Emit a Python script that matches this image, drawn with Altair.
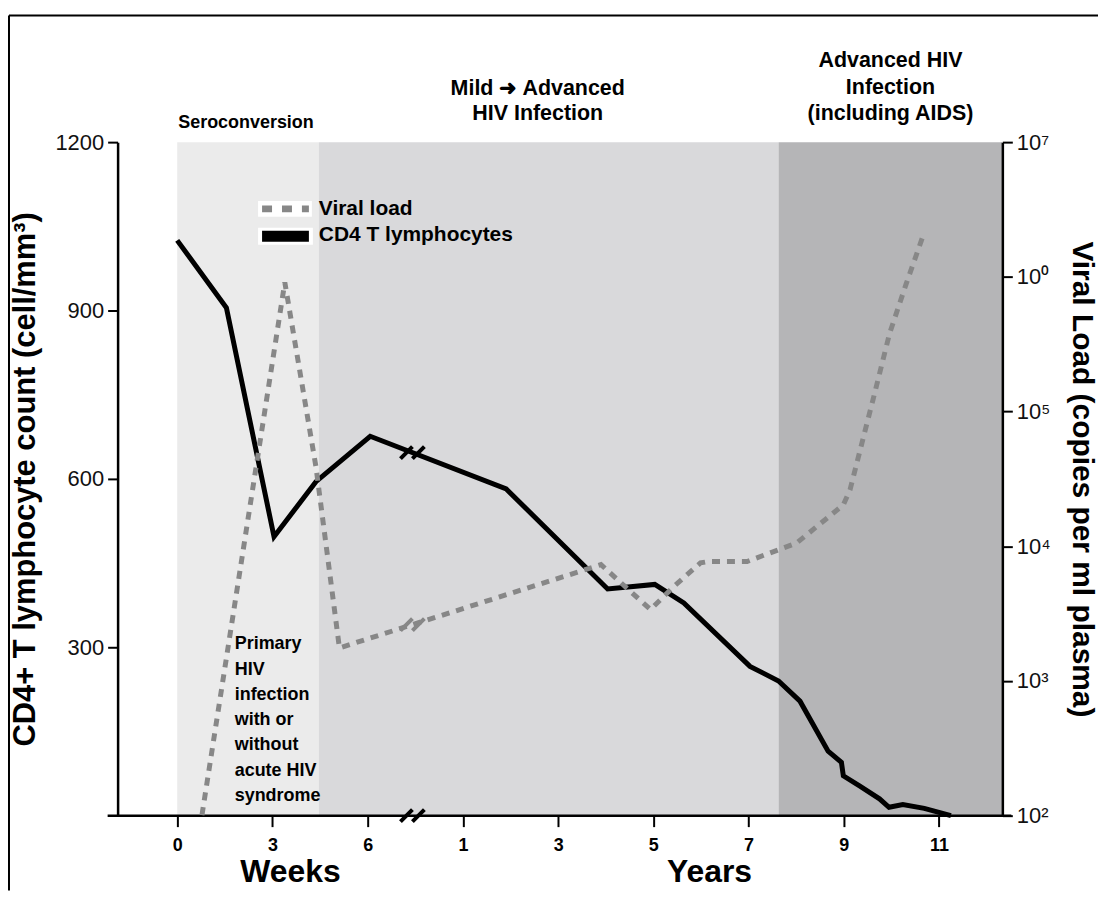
import altair as alt
import pandas as pd
import numpy as np

# ---------------- data ----------------
# CD4+ T lymphocytes (cells/mm3); time given in weeks (early) or years (later)
cd4_time = [0, 1.55, 3.05, 4.37, 6.08, 1.91, 4.04, 5.03, 5.64, 7.03, 7.63, 8.08,
            8.67, 8.95, 8.99, 9.33, 9.75, 9.95, 10.24, 10.69, 11.25]
cd4_unit = ["weeks"] * 5 + ["years"] * 16
cd4_count = [1025, 905, 497, 595, 676, 582, 404, 412, 379, 266, 240, 204,
             115, 95, 71, 53, 30, 15, 20, 13, 0]

# Viral load (copies per ml plasma)
viral_time = [0.78, 3.39, 4.37, 5.11, 3.90, 4.94, 5.43, 5.99, 6.16, 6.97, 7.63,
              8.01, 8.99, 9.13, 9.61, 9.96, 10.31, 10.69]
viral_unit = ["weeks"] * 4 + ["years"] * 14
viral_copies = [101, 910000, 39000, 1760, 7300, 3390, 5030, 7520, 7710, 7710,
                9420, 10570, 20300, 26200, 121000, 378000, 887000, 2140000]

# Stages (shaded backgrounds)
stage_names = ["Seroconversion", "Mild to advanced", "Advanced"]
stage_start = [(0, "weeks"), (4.46, "weeks"), (7.63, "years")]
stage_end = [(4.46, "weeks"), (7.63, "years"), (12.33, "years")]
stage_fill = ["#ebebeb", "#d9d9db", "#b5b5b7"]

# Axis ticks
x_tick_labels = ["0", "3", "6", "1", "3", "5", "7", "9", "11"]
cd4_tick_values = [300, 600, 900, 1200]
viral_tick_values = [1e2, 1e3, 1e4, 1e5, 1e6, 1e7]
viral_tick_labels = ["10²", "10³", "10⁴", "10⁵", "10⁰", "10⁷"]


def axis_pos(t, unit):
    """Position on the broken time axis (one unit per tick)."""
    return t / 3.0 if unit == "weeks" else 3.0 + (t - 1.0) / 2.0


# ---------------- layout ----------------
W, H = 888, 676
XMIN, XMAX = -0.626, 8.665
BREAK_POS = 2.47
SANS = "Liberation Sans, Arial, Helvetica, sans-serif"
GRAY = "#878787"

cd4_df = pd.DataFrame({
    "pos": [axis_pos(t, u) for t, u in zip(cd4_time, cd4_unit)],
    "count": cd4_count,
})
cd4_df["order"] = range(len(cd4_df))
viral_df = pd.DataFrame({
    "pos": [axis_pos(t, u) for t, u in zip(viral_time, viral_unit)],
    "copies": viral_copies,
})
viral_df["order"] = range(len(viral_df))
stage_df = pd.DataFrame({
    "stage": stage_names,
    "start": [axis_pos(*s) for s in stage_start],
    "end": [axis_pos(*e) for e in stage_end],
    "fill": stage_fill,
})
stage_df["mid"] = (stage_df["start"] + stage_df["end"]) / 2

cd4_break = pd.DataFrame({"pos": [BREAK_POS],
                          "count": [np.interp(BREAK_POS, cd4_df["pos"], cd4_df["count"])]})
viral_break = pd.DataFrame({"pos": [BREAK_POS],
                            "copies": [10 ** np.interp(BREAK_POS, viral_df["pos"],
                                                       np.log10(viral_df["copies"]))]})
axis_break = pd.DataFrame({"pos": [BREAK_POS]})
one = pd.DataFrame({"a": [0]})

x_scale = alt.Scale(domain=[XMIN, XMAX], nice=False, zero=False)
label_expr = "[" + ",".join("'%s'" % s for s in x_tick_labels) + "][round(datum.value)]"
x_axis = alt.Axis(values=list(range(len(x_tick_labels))), labelExpr=label_expr,
                  domain=False, grid=False, tickSize=11, tickWidth=2, tickColor="black",
                  labelFont=SANS, labelFontSize=18, labelFontWeight="bold",
                  labelColor="black", labelPadding=10, labelFlush=False, title=None,
                  zindex=1)

cd4_scale = alt.Scale(domain=[0, 1200], nice=False, zero=False)
cd4_axis = alt.Axis(orient="left", values=cd4_tick_values, format="d", grid=False,
                    domainColor="black", domainWidth=2.5, tickColor="black",
                    tickWidth=2, tickSize=10, labelFont=SANS, labelFontSize=22,
                    labelColor="#111111", labelPadding=4, labelFlush=False,
                    title="CD4+ T lymphocyte count (cell/mm³)", titleFont=SANS,
                    titleFontSize=31, titleFontWeight="bold", titleColor="black",
                    titlePadding=13, zindex=1)

viral_scale = alt.Scale(type="log", domain=[1e2, 1e7], nice=False)
viral_expr = ("[" + ",".join("'%s'" % s for s in viral_tick_labels) +
              "][round(log(datum.value)/LN10)-2]")
viral_axis = alt.Axis(orient="right", values=viral_tick_values, labelExpr=viral_expr,
                      grid=False, domainColor="black", domainWidth=2.5,
                      tickColor="black", tickWidth=2, tickSize=10, labelFont=SANS,
                      labelFontSize=22, labelColor="#111111", labelPadding=4,
                      labelFlush=False, title="Viral Load (copies per ml plasma)",
                      titleFont=SANS, titleFontSize=30, titleFontWeight="bold",
                      titleColor="black", titlePadding=16, zindex=1)

X = lambda f: alt.X(f, type="quantitative", scale=x_scale, axis=x_axis)

# ---------------- left group (CD4 scale) ----------------
regions = alt.Chart(stage_df).mark_rect().encode(
    x=X("start"), x2="end", y=alt.value(0), y2=alt.value(H),
    color=alt.Color("fill:N", scale=None))

x_line = alt.Chart(one).mark_rule(color="black", strokeWidth=2.5).encode(
    x=alt.value(-10), x2=alt.value(W + 9), y=alt.value(H))

cd4_line = alt.Chart(cd4_df).mark_line(color="black", strokeWidth=5).encode(
    x=X("pos"), y=alt.Y("count:Q", scale=cd4_scale, axis=cd4_axis), order="order:Q")

BREAK_PATH = "M-1,0.5L0,-0.5M0,0.5L1,-0.5"
cd4_brk = alt.Chart(cd4_break).mark_point(shape=BREAK_PATH, size=576, filled=False,
                                           strokeWidth=4, color="black", opacity=1).encode(
    x=X("pos"), y=alt.Y("count:Q", scale=cd4_scale, axis=cd4_axis))
ax_brk = alt.Chart(axis_break).mark_point(shape=BREAK_PATH, size=576, filled=False,
                                          strokeWidth=4, color="black", opacity=1).encode(
    x=X("pos"), y=alt.value(H))

sero = alt.Chart(stage_df.iloc[[0]]).mark_text(
    font=SANS, fontSize=18, fontWeight="bold", color="black", align="center",
    baseline="middle", dx=-2).encode(x=X("mid"), y=alt.value(-19),
                                     text=alt.value("Seroconversion"))
mild = alt.Chart(stage_df.iloc[[1]]).mark_text(
    font=SANS, fontSize=21.5, fontWeight="bold", color="black", align="center",
    baseline="middle", dx=-11, lineBreak="\n", lineHeight=25).encode(
    x=X("mid"), y=alt.value(-53), text=alt.value("Mild ➜ Advanced\nHIV Infection"))
adv = alt.Chart(stage_df.iloc[[2]]).mark_text(
    font=SANS, fontSize=21.5, fontWeight="bold", color="black", align="center",
    baseline="middle", lineBreak="\n", lineHeight=26.5).encode(
    x=X("mid"), y=alt.value(-81),
    text=alt.value("Advanced HIV\nInfection\n(including AIDS)"))

primary = alt.Chart(pd.DataFrame({"pos": [0.604]})).mark_text(
    font=SANS, fontSize=18, fontWeight="bold", color="black", align="left",
    baseline="middle", lineBreak="\n", lineHeight=25.4).encode(
    x=X("pos"), y=alt.value(504),
    text=alt.value("Primary\nHIV\ninfection\nwith or\nwithout\nacute HIV\nsyndrome"))

units = alt.Chart(pd.DataFrame({"pos": [1.19, 5.59], "unit": ["Weeks", "Years"]})).mark_text(
    font=SANS, fontSize=32, fontWeight="bold", color="black", align="center",
    baseline="middle").encode(x=X("pos"), y=alt.value(733), text="unit:N")

# manual legend
leg_bg1 = alt.Chart(one).mark_rect(color="white").encode(
    x=alt.value(141), x2=alt.value(195), y=alt.value(59), y2=alt.value(75))
leg_bg2 = alt.Chart(one).mark_rect(color="white").encode(
    x=alt.value(141), x2=alt.value(196), y=alt.value(86), y2=alt.value(103))
leg_vl = alt.Chart(one).mark_rule(color=GRAY, strokeWidth=7, strokeDash=[10, 10]).encode(
    x=alt.value(145), x2=alt.value(192), y=alt.value(67))
leg_cd4 = alt.Chart(one).mark_rule(color="black", strokeWidth=11).encode(
    x=alt.value(145), x2=alt.value(192), y=alt.value(94.5))
leg_t1 = alt.Chart(one).mark_text(font=SANS, fontSize=21, fontWeight="bold", color="black",
                                  align="left", baseline="middle").encode(
    x=alt.value(202), y=alt.value(67), text=alt.value("Viral load"))
leg_t2 = alt.Chart(one).mark_text(font=SANS, fontSize=21, fontWeight="bold", color="black",
                                  align="left", baseline="middle").encode(
    x=alt.value(202), y=alt.value(93), text=alt.value("CD4 T lymphocytes"))

# frame around the figure
frame_top = alt.Chart(one).mark_rule(color="black", strokeWidth=2).encode(
    x=alt.value(-109), x2=alt.value(984), y=alt.value(-127))
frame_left = alt.Chart(one).mark_rule(color="black", strokeWidth=2).encode(
    x=alt.value(-109), y=alt.value(-127), y2=alt.value(H + 75))

left = alt.layer(regions, x_line, cd4_line, cd4_brk, ax_brk, sero, mild, adv, primary,
                 units, leg_bg1, leg_bg2, leg_vl, leg_cd4, leg_t1, leg_t2,
                 frame_top, frame_left)

# ---------------- right group (viral load scale) ----------------
viral_line = alt.Chart(viral_df).mark_line(color=GRAY, strokeWidth=5,
                                           strokeDash=[8, 7]).encode(
    x=X("pos"), y=alt.Y("copies:Q", scale=viral_scale, axis=viral_axis), order="order:Q")
viral_brk = alt.Chart(viral_break).mark_point(shape=BREAK_PATH, size=576, filled=False,
                                              strokeWidth=4, color=GRAY, opacity=1).encode(
    x=X("pos"), y=alt.Y("copies:Q", scale=viral_scale, axis=viral_axis))
right = alt.layer(viral_line, viral_brk)

chart = alt.layer(left, right).resolve_scale(y="independent").properties(
    width=W, height=H, padding={"left": 0, "top": 5, "right": 0, "bottom": 0},
    background="white"
).configure_view(stroke=None)

chart.save("out.html", embed_options={"renderer": "svg", "actions": False})
